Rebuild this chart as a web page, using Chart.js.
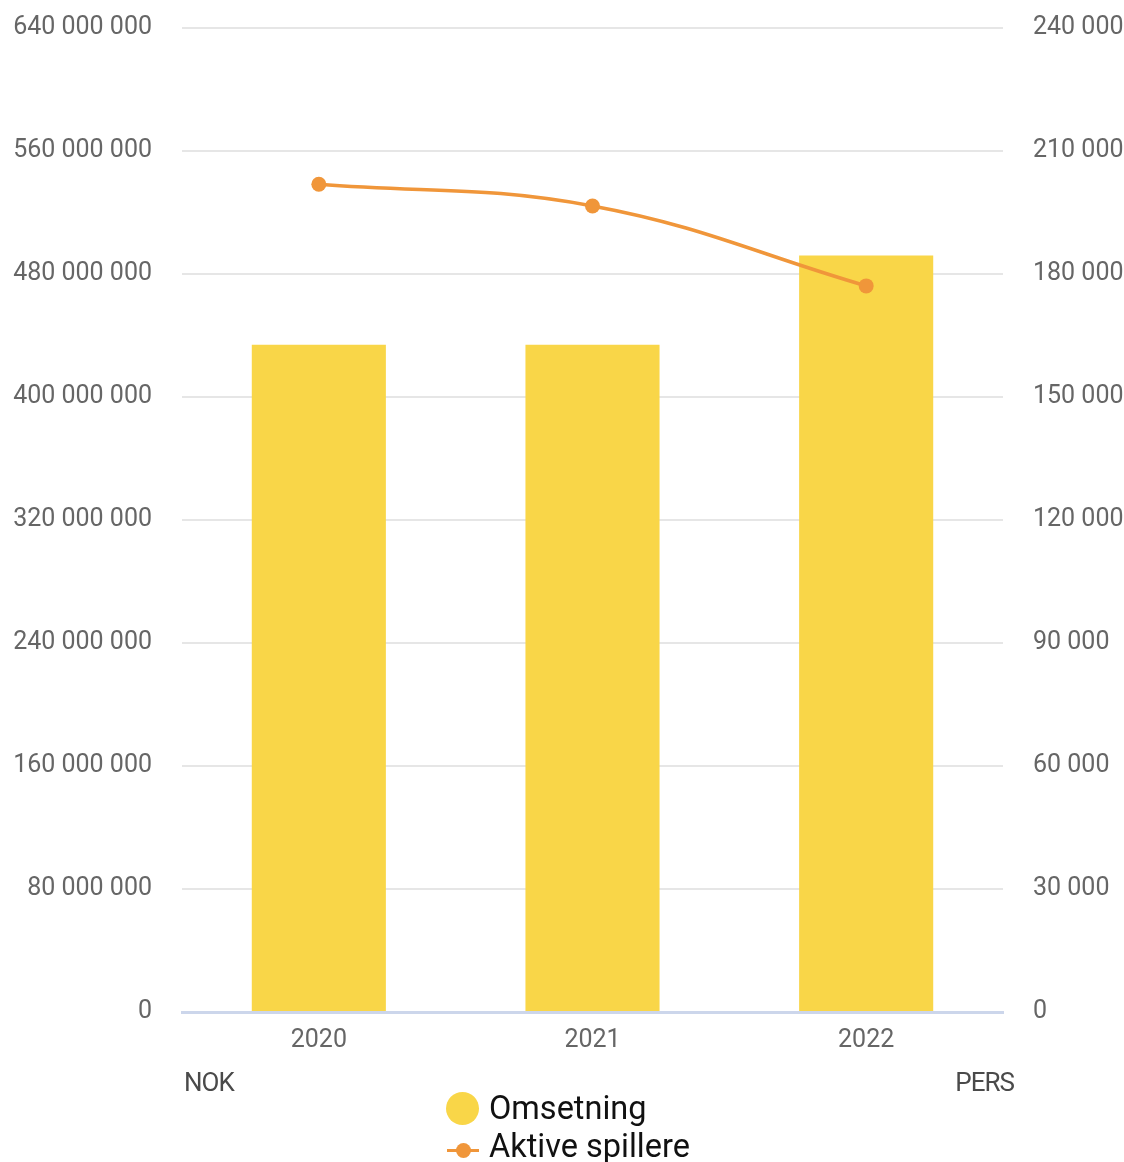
<!DOCTYPE html>
<html>
<head>
<meta charset="utf-8">
<script src="https://cdn.jsdelivr.net/npm/chart.js@4.4.1/dist/chart.umd.min.js"></script>
<style>
  html, body { margin: 0; padding: 0; background: #ffffff; }
  #wrap { position: relative; width: 1124px; height: 1162px; font-family: Roboto, "Liberation Sans", sans-serif; }
  #c { position: absolute; left: 0; top: 0; }
  .unit { position: absolute; top: 1066px; font-size: 26px; color: #4a4a4a; letter-spacing: -1px; line-height: 32px; }
  #legend { position: absolute; left: 446px; top: 1089px; }
  .item { position: relative; height: 38px; line-height: 38px; font-size: 32.5px; color: #111; padding-left: 43px; white-space: nowrap; }
  .dot { position: absolute; left: 0; top: 3px; width: 33px; height: 33px; border-radius: 50%; background: #F9D648; }
  .ln { position: absolute; left: 1px; top: 22px; width: 32px; height: 3px; background: #F0963A; }
  .pt { position: absolute; left: 10px; top: 16px; width: 15px; height: 15px; border-radius: 50%; background: #F0963A; }
</style>
</head>
<body>
<div id="wrap">
  <canvas id="c" width="1124" height="1162"></canvas>
  <div class="unit" style="left:184px;">NOK</div>
  <div class="unit" style="right:110px;">PERS</div>
  <div id="legend">
    <div class="item"><span class="dot"></span>Omsetning</div>
    <div class="item"><span class="ln"></span><span class="pt"></span>Aktive spillere</div>
  </div>
</div>
<script>
const categories = ["2020", "2021", "2022"];
const omsetning = [434000000, 434000000, 492000000];
const aktiveSpillere = [201900, 196600, 177100];
const leftTicks = [0, 80000000, 160000000, 240000000, 320000000, 400000000, 480000000, 560000000, 640000000];
const rightTicks = [0, 30000, 60000, 90000, 120000, 150000, 180000, 210000, 240000];
const seriesNames = ["Omsetning", "Aktive spillere"];

function fmt(v) {
  return String(v).replace(/\B(?=(\d{3})+(?!\d))/g, " ");
}

const tickFont = { family: "Roboto, 'Liberation Sans', sans-serif", size: 25 };

new Chart(document.getElementById("c"), {
  data: {
    labels: categories,
    datasets: [
      {
        type: "line",
        label: seriesNames[1],
        data: aktiveSpillere,
        yAxisID: "y1",
        borderColor: "#F0963A",
        backgroundColor: "#F0963A",
        borderWidth: 3.5,
        pointRadius: 7.5,
        pointHoverRadius: 7.5,
        pointBorderWidth: 0,
        tension: 0.4,
        order: 0
      },
      {
        type: "bar",
        label: seriesNames[0],
        data: omsetning,
        yAxisID: "y",
        backgroundColor: "#F9D648",
        barPercentage: 0.49,
        categoryPercentage: 1,
        order: 1
      }
    ]
  },
  options: {
    responsive: false,
    animation: false,
    events: [],
    layout: { padding: { top: 28, left: 0, right: 0, bottom: 0 } },
    plugins: { legend: { display: false }, tooltip: { enabled: false } },
    scales: {
      x: {
        type: "category",
        grid: { display: false, drawTicks: false },
        border: { display: true, color: "#CCD6EB", width: 3 },
        ticks: { color: "#666666", font: tickFont, padding: 14 },
        afterFit: s => { s.height = 150; s.paddingLeft = 0; s.paddingRight = 0; }
      },
      y: {
        position: "left",
        min: 0,
        max: 640000000,
        afterBuildTicks: s => { s.ticks = leftTicks.map(v => ({ value: v })); },
        grid: {
          color: ctx => (ctx.tick && ctx.tick.value === 0) ? "rgba(0,0,0,0)" : "#E6E6E6",
          lineWidth: 2,
          drawTicks: false
        },
        border: { display: false },
        ticks: { color: "#666666", font: tickFont, padding: 30, callback: v => fmt(v) },
        afterFit: s => { s.width = 182; s.paddingTop = 0; s.paddingBottom = 0; }
      },
      y1: {
        position: "right",
        min: 0,
        max: 240000,
        afterBuildTicks: s => { s.ticks = rightTicks.map(v => ({ value: v })); },
        grid: { display: false, drawTicks: false },
        border: { display: false },
        ticks: { color: "#666666", font: tickFont, padding: 30, callback: v => fmt(v) },
        afterFit: s => { s.width = 121; s.paddingTop = 0; s.paddingBottom = 0; }
      }
    }
  }
});
</script>
</body>
</html>
